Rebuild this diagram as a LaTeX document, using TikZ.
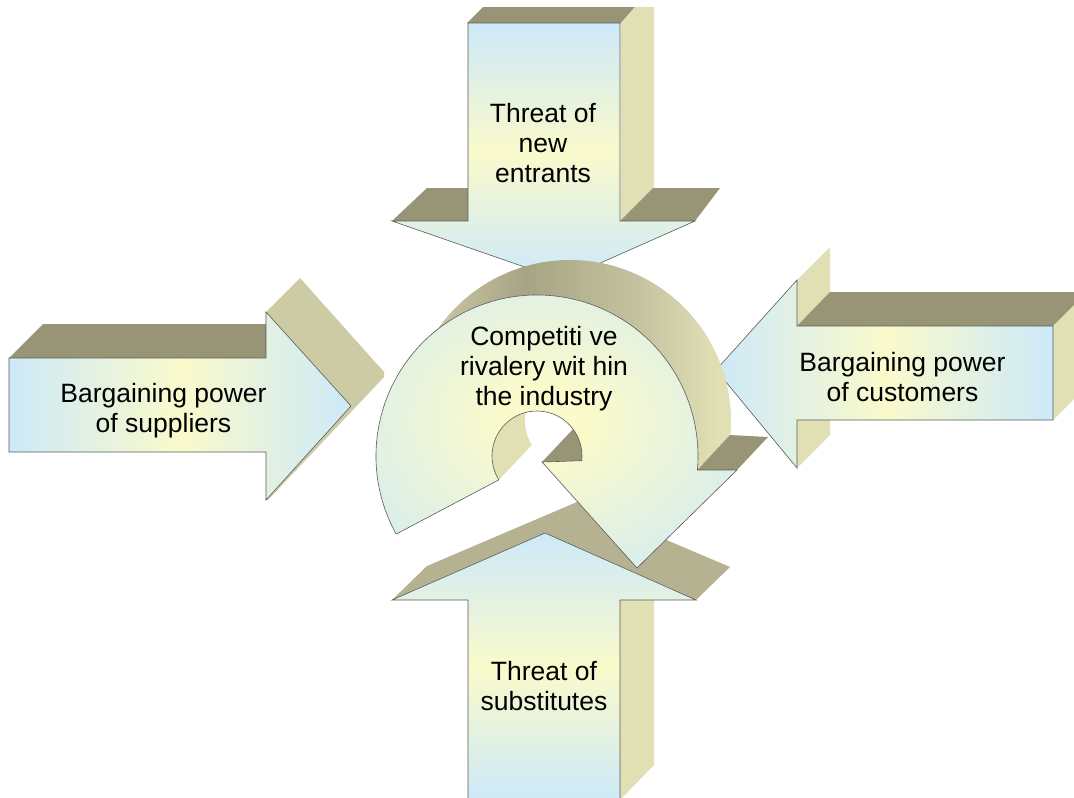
\documentclass[tikz,border=0pt]{standalone}
\usepackage{fontspec}
\setmainfont{Liberation Sans}
\usetikzlibrary{calc}
\definecolor{cblue}{RGB}{205,233,249}
\definecolor{cyell}{RGB}{250,250,203}
\definecolor{cdark}{RGB}{151,149,118}
\definecolor{clight}{RGB}{225,223,180}
\definecolor{cmid}{RGB}{204,203,163}
\definecolor{cbot}{RGB}{180,178,144}
\definecolor{bandL}{RGB}{200,198,162}
\definecolor{bandM}{RGB}{166,164,132}
\definecolor{bandN}{RGB}{196,194,158}
\definecolor{bandR}{RGB}{225,223,180}
\definecolor{edge}{RGB}{90,90,90}
\pgfdeclareradialshading{ringshade}{\pgfpoint{0bp}{0bp}}{color(0bp)=(cyell); color(6bp)=(cyell); color(36bp)=(cblue); color(50bp)=(cblue)}
\pgfdeclarehorizontalshading{bandshade}{100bp}{color(0bp)=(bandL); color(25bp)=(bandL); color(40bp)=(bandM); color(58bp)=(bandN); color(72bp)=(bandR); color(100bp)=(bandR)}
\begin{document}
\begin{tikzpicture}[x=1pt,y=-1pt,
  front/.style={draw=edge, line width=0.6pt, line join=miter},
  lbl/.style={align=center, inner sep=0pt, text=black, font=\fontsize{26.5}{30}\selectfont}]
\useasboundingbox (0,0) rectangle (1074,798);
\fill[white] (0,0) rectangle (1074,798);

% ---- top arrow (threat of new entrants)
\fill[cdark] (467,23) -- (483,7) -- (635,7) -- (621,23) -- cycle;
\fill[clight] (621,23) -- (635,7) -- (654,7) -- (654,188) -- (621,221) -- cycle;
\fill[cdark] (392,221) -- (427,188) -- (468,188) -- (468,221) -- cycle;
\fill[cdark] (620,221) -- (653,188) -- (720,188) -- (695,221) -- cycle;
\path[front, top color=cblue, bottom color=cblue, middle color=cyell]
  (468,23) -- (620,23) -- (620,221) -- (695,221) -- (562,280) -- (392,221) -- (468,221) -- cycle;

% ---- left arrow (suppliers)
\fill[cdark] (9,358) -- (43,324) -- (266,324) -- (266,358) -- cycle;
\fill[cmid] (266,312) -- (300,278) -- (384,372) -- (384,377) -- (268,500) -- (266,500) -- cycle;
\path[front, left color=cblue, right color=cblue, middle color=cyell]
  (9,358) -- (266,358) -- (266,312) -- (351,406) -- (266,500) -- (266,452) -- (9,452) -- cycle;

% ---- right arrow (customers)
\fill[clight] (797,280) -- (830,247) -- (830,292) -- (797,326) -- cycle;
\fill[clight] (797,420) -- (830,420) -- (830,435) -- (797,468) -- cycle;
\fill[cdark] (797,326) -- (830,292) -- (1076,292) -- (1076,305) -- (1053,326) -- cycle;
\fill[clight] (1053,326) -- (1076,303) -- (1076,397) -- (1053,420) -- cycle;
\path[front, left color=cblue, right color=cblue, middle color=cyell]
  (1053,326) -- (797,326) -- (797,280) -- (716,370) -- (797,468) -- (797,420) -- (1053,420) -- cycle;

% ---- bottom arrow (substitutes)
\fill[clight] (620,600) -- (654,600) -- (654,765) -- (620,800) -- cycle;
\fill[cbot] (392,600) -- (427,566) -- (577,502) -- (545,533) -- cycle;
\fill[cbot] (545,533) -- (577,502) -- (730,567) -- (696,600) -- cycle;
\path[front, top color=cblue, bottom color=cblue, middle color=cyell]
  (468,802) -- (468,600) -- (392,600) -- (545,533) -- (696,600) -- (620,600) -- (620,802) -- cycle;

% ---- circular arrow (rivalry)
\coordinate (rc) at (537,456);
\coordinate (rs) at (570,421);
\path[shade, shading=bandshade]
  ($(rs)+(-146:161)$) arc[start angle=-146, end angle=5, radius=161]
  -- ($(rc)+(5:161)$) arc[start angle=5, end angle=-128, radius=161] -- cycle;
\fill[cdark] ($(rc)+(5:161)$) -- (730,435) -- (768,437) -- (737,470) -- cycle;
\begin{scope}
  \clip (rc) circle[radius=45];
  \fill[clight] (459,522) -- (598,375) -- (459,375) -- cycle;
  \fill[white] (rs) circle[radius=45];
  \fill[cdark] (542,462) -- (582,461) -- (615,426) -- (575,427) -- cycle;
\end{scope}
\path[front, shade, shading=ringshade]
  ($(rc)+(-209:161)$) arc[start angle=-209, end angle=5, radius=161]
  -- (737,470) -- (637,568) -- (542,462)
  -- ($(rc)+(6:45)$) arc[start angle=6, end angle=-212, radius=45] -- cycle;

% ---- labels
\node[lbl] (entrants) at (543,146) {\strut Threat of\\\strut new\\\strut entrants};
\node[lbl] (suppliers) at (163.5,411) {\strut Bargaining power\\\strut of suppliers};
\node[lbl] (customers) at (902.5,380.7) {\strut Bargaining power\\\strut of customers};
\node[lbl] (substitutes) at (544,689.3) {\strut Threat of\\\strut substitutes};
\node[lbl] (rivalry) at (544,369.7) {\strut Competiti ve\\\strut rivalery wit hin\\\strut the industry};
\end{tikzpicture}
\end{document}
